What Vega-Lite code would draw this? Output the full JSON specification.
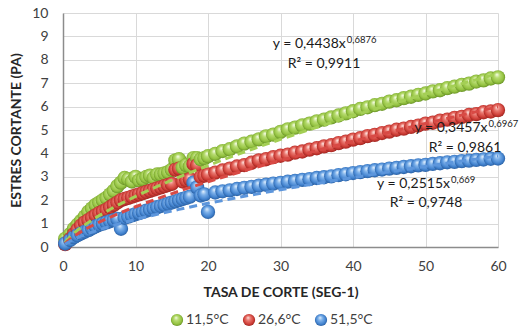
{
  "$schema": "https://vega.github.io/schema/vega-lite/v6.json",
  "width": 435,
  "height": 234,
  "autosize": "none",
  "padding": {"left": 63, "top": 13, "right": 24, "bottom": 84},
  "background": "white",
  "config": {
    "font": "Lato",
    "view": {"stroke": null},
    "axis": {
      "grid": true,
      "gridColor": "#d9d9d9",
      "gridWidth": 1,
      "domainColor": "#8c8c8c",
      "domainWidth": 1.5,
      "ticks": false,
      "labelFlush": false,
      "labelFont": "Lato",
      "labelFontSize": 14,
      "labelColor": "#404040",
      "titleFont": "Lato",
      "titleFontSize": 14,
      "titleFontWeight": "bold",
      "titleColor": "#262626"
    },
    "legend": {
      "orient": "none",
      "legendX": 107,
      "legendY": 300,
      "direction": "horizontal",
      "labelFont": "Lato",
      "labelFontSize": 14,
      "labelColor": "#404040",
      "symbolSize": 150,
      "symbolType": "circle",
      "symbolStrokeWidth": 0,
      "symbolOpacity": 1,
      "columnPadding": 13,
      "labelOffset": 2
    }
  },
  "datasets": {
    "medidas": [
      {"x": 0.3, "11,5°C": 0.35, "26,6°C": 0.12, "51,5°C": 0.15},
      {"x": 1, "11,5°C": 0.55, "26,6°C": 0.35, "51,5°C": 0.3},
      {"x": 1.5, "11,5°C": 0.78, "26,6°C": 0.55, "51,5°C": 0.42},
      {"x": 2, "11,5°C": 0.95, "26,6°C": 0.75, "51,5°C": 0.5},
      {"x": 2.5, "11,5°C": 1.12, "26,6°C": 0.92, "51,5°C": 0.58},
      {"x": 3, "11,5°C": 1.3, "26,6°C": 1.05, "51,5°C": 0.65},
      {"x": 3.5, "11,5°C": 1.5, "26,6°C": 1.15, "51,5°C": 0.72},
      {"x": 4, "11,5°C": 1.65, "26,6°C": 1.25, "51,5°C": 0.8},
      {"x": 4.5, "11,5°C": 1.8, "26,6°C": 1.35, "51,5°C": 0.88},
      {"x": 5, "11,5°C": 1.9, "26,6°C": 1.45, "51,5°C": 0.95},
      {"x": 5.5, "11,5°C": 2.0, "26,6°C": 1.52, "51,5°C": 1.0},
      {"x": 6, "11,5°C": 2.1, "26,6°C": 1.6, "51,5°C": 1.05},
      {"x": 6.5, "11,5°C": 2.25, "26,6°C": 1.7, "51,5°C": 1.1},
      {"x": 7, "11,5°C": 2.4, "26,6°C": 1.8, "51,5°C": 1.15},
      {"x": 7.5, "11,5°C": 2.6, "26,6°C": 1.9, "51,5°C": 1.2},
      {"x": 8, "11,5°C": 2.75, "26,6°C": 2.0, "51,5°C": 0.78},
      {"x": 8.5, "11,5°C": 2.95, "26,6°C": 2.05, "51,5°C": 1.25},
      {"x": 9, "11,5°C": 2.9, "26,6°C": 2.1, "51,5°C": 1.3},
      {"x": 9.5, "11,5°C": 2.8, "26,6°C": 2.15, "51,5°C": 1.35},
      {"x": 10, "11,5°C": 3.0, "26,6°C": 2.2, "51,5°C": 1.4},
      {"x": 10.5, "11,5°C": 2.85, "26,6°C": 2.25, "51,5°C": 1.45},
      {"x": 11, "11,5°C": 2.9, "26,6°C": 2.3, "51,5°C": 1.5},
      {"x": 11.5, "11,5°C": 3.0, "26,6°C": 2.35, "51,5°C": 1.55},
      {"x": 12, "11,5°C": 3.05, "26,6°C": 2.4, "51,5°C": 1.6},
      {"x": 12.5, "11,5°C": 2.95, "26,6°C": 2.45, "51,5°C": 1.65},
      {"x": 13, "11,5°C": 3.1, "26,6°C": 2.5, "51,5°C": 1.7},
      {"x": 13.5, "11,5°C": 3.1, "26,6°C": 2.55, "51,5°C": 1.75},
      {"x": 14, "11,5°C": 3.15, "26,6°C": 2.6, "51,5°C": 1.8},
      {"x": 14.5, "11,5°C": 3.2, "26,6°C": 2.65, "51,5°C": 1.85},
      {"x": 15, "11,5°C": 3.3, "26,6°C": 2.7, "51,5°C": 1.9},
      {"x": 15.5, "11,5°C": 3.7, "26,6°C": 3.3, "51,5°C": 1.95},
      {"x": 16, "11,5°C": 3.75, "26,6°C": 3.35, "51,5°C": 2.0},
      {"x": 16.5, "11,5°C": 3.4, "26,6°C": 2.8, "51,5°C": 2.05},
      {"x": 17, "11,5°C": 3.5, "26,6°C": 2.85, "51,5°C": 2.1},
      {"x": 17.5, "11,5°C": 3.45, "26,6°C": 2.9, "51,5°C": 2.15},
      {"x": 18, "11,5°C": 3.8, "26,6°C": 3.55, "51,5°C": 2.75},
      {"x": 18.5, "11,5°C": 3.8, "26,6°C": 3.5, "51,5°C": 2.55},
      {"x": 19, "11,5°C": 3.75, "26,6°C": 3.0, "51,5°C": 2.2},
      {"x": 19.5, "11,5°C": 3.8, "26,6°C": 3.05, "51,5°C": 2.25},
      {"x": 20, "11,5°C": 3.88, "26,6°C": 3.1, "51,5°C": 1.5},
      {"x": 21, "11,5°C": 3.98, "26,6°C": 3.18, "51,5°C": 2.33},
      {"x": 22, "11,5°C": 4.1, "26,6°C": 3.27, "51,5°C": 2.38},
      {"x": 23, "11,5°C": 4.18, "26,6°C": 3.35, "51,5°C": 2.42},
      {"x": 24, "11,5°C": 4.3, "26,6°C": 3.44, "51,5°C": 2.48},
      {"x": 25, "11,5°C": 4.42, "26,6°C": 3.5, "51,5°C": 2.53},
      {"x": 26, "11,5°C": 4.5, "26,6°C": 3.6, "51,5°C": 2.57},
      {"x": 27, "11,5°C": 4.6, "26,6°C": 3.7, "51,5°C": 2.62},
      {"x": 28, "11,5°C": 4.73, "26,6°C": 3.75, "51,5°C": 2.66},
      {"x": 29, "11,5°C": 4.8, "26,6°C": 3.84, "51,5°C": 2.71},
      {"x": 30, "11,5°C": 4.92, "26,6°C": 3.9, "51,5°C": 2.74},
      {"x": 31, "11,5°C": 5.03, "26,6°C": 3.95, "51,5°C": 2.79},
      {"x": 32, "11,5°C": 5.1, "26,6°C": 4.03, "51,5°C": 2.82},
      {"x": 33, "11,5°C": 5.2, "26,6°C": 4.08, "51,5°C": 2.87},
      {"x": 34, "11,5°C": 5.27, "26,6°C": 4.16, "51,5°C": 2.9},
      {"x": 35, "11,5°C": 5.37, "26,6°C": 4.22, "51,5°C": 2.95},
      {"x": 36, "11,5°C": 5.44, "26,6°C": 4.3, "51,5°C": 2.98},
      {"x": 37, "11,5°C": 5.54, "26,6°C": 4.35, "51,5°C": 3.02},
      {"x": 38, "11,5°C": 5.62, "26,6°C": 4.44, "51,5°C": 3.07},
      {"x": 39, "11,5°C": 5.71, "26,6°C": 4.5, "51,5°C": 3.11},
      {"x": 40, "11,5°C": 5.8, "26,6°C": 4.59, "51,5°C": 3.16},
      {"x": 41, "11,5°C": 5.9, "26,6°C": 4.65, "51,5°C": 3.2},
      {"x": 42, "11,5°C": 5.97, "26,6°C": 4.74, "51,5°C": 3.24},
      {"x": 43, "11,5°C": 6.06, "26,6°C": 4.79, "51,5°C": 3.28},
      {"x": 44, "11,5°C": 6.12, "26,6°C": 4.87, "51,5°C": 3.31},
      {"x": 45, "11,5°C": 6.21, "26,6°C": 4.93, "51,5°C": 3.35},
      {"x": 46, "11,5°C": 6.27, "26,6°C": 5.01, "51,5°C": 3.38},
      {"x": 47, "11,5°C": 6.36, "26,6°C": 5.06, "51,5°C": 3.42},
      {"x": 48, "11,5°C": 6.42, "26,6°C": 5.13, "51,5°C": 3.45},
      {"x": 49, "11,5°C": 6.5, "26,6°C": 5.19, "51,5°C": 3.49},
      {"x": 50, "11,5°C": 6.56, "26,6°C": 5.27, "51,5°C": 3.51},
      {"x": 51, "11,5°C": 6.65, "26,6°C": 5.31, "51,5°C": 3.55},
      {"x": 52, "11,5°C": 6.7, "26,6°C": 5.4, "51,5°C": 3.58},
      {"x": 53, "11,5°C": 6.79, "26,6°C": 5.44, "51,5°C": 3.62},
      {"x": 54, "11,5°C": 6.85, "26,6°C": 5.52, "51,5°C": 3.64},
      {"x": 55, "11,5°C": 6.93, "26,6°C": 5.56, "51,5°C": 3.67},
      {"x": 56, "11,5°C": 6.98, "26,6°C": 5.64, "51,5°C": 3.69},
      {"x": 57, "11,5°C": 7.07, "26,6°C": 5.68, "51,5°C": 3.72},
      {"x": 58, "11,5°C": 7.12, "26,6°C": 5.76, "51,5°C": 3.74},
      {"x": 59, "11,5°C": 7.2, "26,6°C": 5.79, "51,5°C": 3.77},
      {"x": 60, "11,5°C": 7.25, "26,6°C": 5.85, "51,5°C": 3.78}
    ],
    "tendencias": [
      {"x": 0.3, "11,5°C": 0.194, "26,6°C": 0.149, "51,5°C": 0.112},
      {"x": 0.5, "11,5°C": 0.276, "26,6°C": 0.213, "51,5°C": 0.158},
      {"x": 1, "11,5°C": 0.444, "26,6°C": 0.346, "51,5°C": 0.252},
      {"x": 2, "11,5°C": 0.715, "26,6°C": 0.56, "51,5°C": 0.4},
      {"x": 3, "11,5°C": 0.945, "26,6°C": 0.743, "51,5°C": 0.525},
      {"x": 4, "11,5°C": 1.151, "26,6°C": 0.908, "51,5°C": 0.636},
      {"x": 6, "11,5°C": 1.521, "26,6°C": 1.205, "51,5°C": 0.834},
      {"x": 8, "11,5°C": 1.854, "26,6°C": 1.472, "51,5°C": 1.011},
      {"x": 10, "11,5°C": 2.162, "26,6°C": 1.72, "51,5°C": 1.174},
      {"x": 13, "11,5°C": 2.589, "26,6°C": 2.064, "51,5°C": 1.399},
      {"x": 16, "11,5°C": 2.987, "26,6°C": 2.386, "51,5°C": 1.607},
      {"x": 20, "11,5°C": 3.482, "26,6°C": 2.787, "51,5°C": 1.866},
      {"x": 25, "11,5°C": 4.059, "26,6°C": 3.256, "51,5°C": 2.167},
      {"x": 30, "11,5°C": 4.601, "26,6°C": 3.697, "51,5°C": 2.448},
      {"x": 35, "11,5°C": 5.115, "26,6°C": 4.116, "51,5°C": 2.713},
      {"x": 40, "11,5°C": 5.608, "26,6°C": 4.517, "51,5°C": 2.967},
      {"x": 45, "11,5°C": 6.081, "26,6°C": 4.903, "51,5°C": 3.211},
      {"x": 50, "11,5°C": 6.538, "26,6°C": 5.277, "51,5°C": 3.445},
      {"x": 55, "11,5°C": 6.981, "26,6°C": 5.639, "51,5°C": 3.671},
      {"x": 60, "11,5°C": 7.411, "26,6°C": 5.992, "51,5°C": 3.892}
    ],
    "ecuaciones": [
      {"pieza": "eq", "t": "y = 0,4438x", "x": 39.0, "y": 8.49},
      {"pieza": "exp", "t": "0,6876", "x": 39.0, "y": 8.49},
      {"pieza": "r2", "t": "R² = 0,9911", "x": 36.0, "y": 7.64},
      {"pieza": "eq", "t": "y = 0,3457x", "x": 58.55, "y": 4.93},
      {"pieza": "exp", "t": "0,6967", "x": 58.55, "y": 4.93},
      {"pieza": "r2", "t": "R² = 0,9861", "x": 55.45, "y": 4.07},
      {"pieza": "eq", "t": "y = 0,2515x", "x": 53.38, "y": 2.51},
      {"pieza": "exp", "t": "0,669", "x": 53.38, "y": 2.51},
      {"pieza": "r2", "t": "R² = 0,9748", "x": 50.07, "y": 1.72}
    ]
  },
  "encoding": {
    "x": {
      "field": "x",
      "type": "quantitative",
      "scale": {"domain": [0, 60], "nice": false},
      "axis": {
        "values": [0, 10, 20, 30, 40, 50, 60],
        "labelPadding": 12,
        "title": "TASA DE CORTE (SEG-1)",
        "titlePadding": 12
      }
    },
    "y": {
      "field": "y",
      "type": "quantitative",
      "scale": {"domain": [0, 10], "nice": false},
      "axis": {
        "values": [0, 1, 2, 3, 4, 5, 6, 7, 8, 9, 10],
        "labelPadding": 15,
        "title": "ESTRES CORTANTE (PA)",
        "titlePadding": 8
      }
    }
  },
  "layer": [
    {
      "data": {"name": "medidas"},
      "transform": [
        {"fold": ["11,5°C", "26,6°C", "51,5°C"], "as": ["serie", "y"]}
      ],
      "mark": {
        "type": "point",
        "shape": "circle",
        "filled": true,
        "opacity": 1,
        "size": 205,
        "fill": {"expr": "datum.serie === '11,5°C' ? {gradient: 'radial', x1: 0.42, y1: 0.3, r1: 0.02, x2: 0.5, y2: 0.5, r2: 0.56, stops: [{offset: 0, color: '#f3fbe2'}, {offset: 0.3, color: '#b8dc72'}, {offset: 0.72, color: '#93c23f'}, {offset: 1, color: '#587f1f'}]} : datum.serie === '26,6°C' ? {gradient: 'radial', x1: 0.42, y1: 0.3, r1: 0.02, x2: 0.5, y2: 0.5, r2: 0.56, stops: [{offset: 0, color: '#fde0dc'}, {offset: 0.3, color: '#ea7a72'}, {offset: 0.72, color: '#cf3d36'}, {offset: 1, color: '#8a1c18'}]} : {gradient: 'radial', x1: 0.42, y1: 0.3, r1: 0.02, x2: 0.5, y2: 0.5, r2: 0.56, stops: [{offset: 0, color: '#dcecfc'}, {offset: 0.3, color: '#7fb2ea'}, {offset: 0.72, color: '#4182cf'}, {offset: 1, color: '#22528e'}]}"}
      },
      "encoding": {
        "order": [
          {"field": "serie", "type": "ordinal"},
          {"field": "x", "type": "quantitative"}
        ]
      }
    },
    {
      "data": {"name": "tendencias"},
      "transform": [
        {"fold": ["11,5°C", "26,6°C", "51,5°C"], "as": ["serie", "y"]}
      ],
      "mark": {"type": "line", "strokeDash": [8, 5], "strokeWidth": 3, "interpolate": "monotone"},
      "encoding": {
        "color": {
          "field": "serie",
          "type": "nominal",
          "scale": {"domain": ["11,5°C", "26,6°C", "51,5°C"], "range": ["#a4cf55", "#d84a45", "#5d96dc"]},
          "legend": {
            "title": null,
            "symbolDash": [1, 0],
            "encode": {
              "symbols": {
                "update": {
                  "fill": {"signal": "datum.value === '11,5°C' ? {gradient: 'radial', x1: 0.42, y1: 0.3, r1: 0.02, x2: 0.5, y2: 0.5, r2: 0.56, stops: [{offset: 0, color: '#f3fbe2'}, {offset: 0.3, color: '#b8dc72'}, {offset: 0.72, color: '#93c23f'}, {offset: 1, color: '#587f1f'}]} : datum.value === '26,6°C' ? {gradient: 'radial', x1: 0.42, y1: 0.3, r1: 0.02, x2: 0.5, y2: 0.5, r2: 0.56, stops: [{offset: 0, color: '#fde0dc'}, {offset: 0.3, color: '#ea7a72'}, {offset: 0.72, color: '#cf3d36'}, {offset: 1, color: '#8a1c18'}]} : {gradient: 'radial', x1: 0.42, y1: 0.3, r1: 0.02, x2: 0.5, y2: 0.5, r2: 0.56, stops: [{offset: 0, color: '#dcecfc'}, {offset: 0.3, color: '#7fb2ea'}, {offset: 0.72, color: '#4182cf'}, {offset: 1, color: '#22528e'}]}"},
                  "stroke": {"value": "transparent"},
                  "opacity": {"value": 1}
                }
              }
            }
          }
        }
      }
    },
    {
      "data": {"name": "ecuaciones"},
      "transform": [{"filter": "datum.pieza === 'eq'"}],
      "mark": {"type": "text", "align": "right", "baseline": "alphabetic", "fontSize": 14, "color": "#1a1a1a"},
      "encoding": {"text": {"field": "t"}}
    },
    {
      "data": {"name": "ecuaciones"},
      "transform": [{"filter": "datum.pieza === 'exp'"}],
      "mark": {"type": "text", "align": "left", "baseline": "alphabetic", "fontSize": 9.5, "dx": 1, "dy": -5, "color": "#1a1a1a"},
      "encoding": {"text": {"field": "t"}}
    },
    {
      "data": {"name": "ecuaciones"},
      "transform": [{"filter": "datum.pieza === 'r2'"}],
      "mark": {"type": "text", "align": "center", "baseline": "alphabetic", "fontSize": 14, "color": "#1a1a1a"},
      "encoding": {"text": {"field": "t"}}
    }
  ]
}
